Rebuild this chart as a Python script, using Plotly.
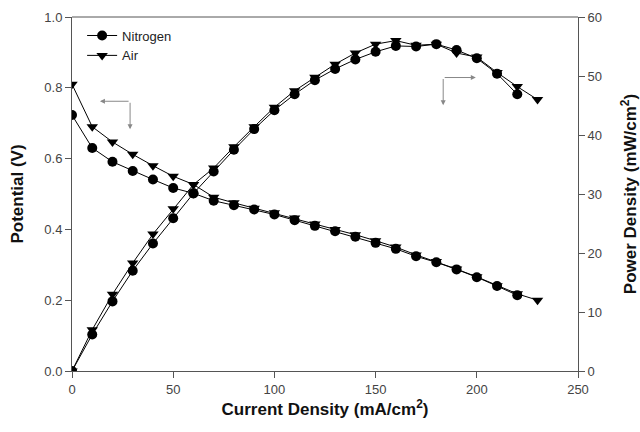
import plotly.graph_objects as go

current_n = [0, 10, 20, 30, 40, 50, 60, 70, 80, 90, 100, 110, 120, 130, 140, 150, 160, 170, 180, 190, 200, 210, 220]
current_a = [0, 10, 20, 30, 40, 50, 60, 70, 80, 90, 100, 110, 120, 130, 140, 150, 160, 170, 180, 190, 200, 210, 220, 230]

pot_n = [0.723, 0.630, 0.591, 0.565, 0.541, 0.517, 0.502, 0.481, 0.468, 0.456, 0.442, 0.426, 0.410,
         0.395, 0.379, 0.362, 0.345, 0.324, 0.307, 0.287, 0.265, 0.240, 0.214]
pot_a = [0.810, 0.690, 0.647, 0.612, 0.580, 0.550, 0.527, 0.491, 0.475, 0.460, 0.447, 0.432, 0.415,
         0.400, 0.385, 0.368, 0.350, 0.328, 0.309, 0.288, 0.266, 0.241, 0.218, 0.200]

pow_n = [0, 6.2, 11.8, 17.0, 21.6, 25.9, 30.1, 33.8, 37.5, 41.0, 44.2, 46.9, 49.3,
         51.2, 52.8, 54.1, 55.1, 55.0, 55.4, 54.4, 53.0, 50.4, 46.9]
pow_a = [0, 7.0, 13.0, 18.3, 23.2, 27.5, 31.6, 34.4, 38.0, 41.4, 44.7, 47.5, 49.8,
         52.0, 53.9, 55.4, 56.0, 55.2, 55.4, 53.9, 53.2, 50.6, 48.2, 46.0]

x_ticks = [0, 50, 100, 150, 200, 250]
y_left_ticks = [0.0, 0.2, 0.4, 0.6, 0.8, 1.0]
y_right_ticks = [0, 10, 20, 30, 40, 50, 60]

FONT = "Liberation Sans, Arial"
line_style = dict(color="black", width=1)

fig = go.Figure()
fig.add_trace(go.Scatter(x=current_n, y=pot_n, mode="lines+markers", name="Nitrogen",
                         line=line_style, marker=dict(symbol="circle", size=10, color="black")))
fig.add_trace(go.Scatter(x=current_a, y=pot_a, mode="lines+markers", name="Air",
                         line=line_style, marker=dict(symbol="triangle-down", size=10, color="black")))
fig.add_trace(go.Scatter(x=current_n, y=pow_n, mode="lines+markers", showlegend=False, yaxis="y2",
                         line=line_style, marker=dict(symbol="circle", size=10, color="black")))
fig.add_trace(go.Scatter(x=current_a, y=pow_a, mode="lines+markers", showlegend=False, yaxis="y2",
                         line=line_style, marker=dict(symbol="triangle-down", size=10, color="black")))

axis_common = dict(showgrid=False, zeroline=False, showline=True, linecolor="#555", linewidth=1,
                   ticks="outside", tickcolor="#555", ticklen=6, automargin=False,
                   tickfont=dict(family=FONT, size=13, color="#444"))
title_font = dict(family=FONT, size=17, color="#111")

fig.update_layout(
    width=640, height=432,
    margin=dict(l=72, r=62, t=17, b=61),
    plot_bgcolor="white", paper_bgcolor="white",
    font=dict(family=FONT, color="#222"),
    xaxis=dict(range=[0, 250], tickvals=x_ticks,
               title=dict(text="<b>Current Density (mA/cm<sup>2</sup>)</b>", font=title_font, standoff=2),
               **axis_common),
    yaxis=dict(range=[0, 1.0], tickvals=y_left_ticks, tickformat=".1f",
               title=dict(text="<b>Potential (V)</b>", font=title_font, standoff=16),
               **axis_common),
    yaxis2=dict(range=[0, 60], tickvals=y_right_ticks, overlaying="y", side="right",
                title=dict(text="<b>Power Density (mW/cm<sup>2</sup>)</b>", font=title_font, standoff=23),
                **axis_common),
    legend=dict(x=0.02, y=0.99, xanchor="left", yanchor="top", bgcolor="rgba(0,0,0,0)",
                font=dict(family=FONT, size=13, color="#222"), itemwidth=30, tracegroupgap=0),
    shapes=[dict(type="line", xref="paper", yref="paper", x0=0, x1=1, y0=1, y1=1,
                 line=dict(color="#555", width=1))],
)

arrow_color = "#888"
annots = [
    dict(x=13.8, y=0.762, ax=28.7, ay=0.762),
    dict(x=28.7, y=0.683, ax=28.7, ay=0.762),
    dict(x=199.5, y=0.829, ax=183.4, ay=0.829),
    dict(x=183.4, y=0.751, ax=183.4, ay=0.829),
]
for a in annots:
    fig.add_annotation(x=a["x"], y=a["y"], ax=a["ax"], ay=a["ay"], xref="x", yref="y",
                       axref="x", ayref="y", text="", showarrow=True, arrowhead=2,
                       arrowsize=1, arrowwidth=1, arrowcolor=arrow_color)

fig.write_html("out.html", config={"displayModeBar": False},
               post_script="document.body.style.margin='0';")
